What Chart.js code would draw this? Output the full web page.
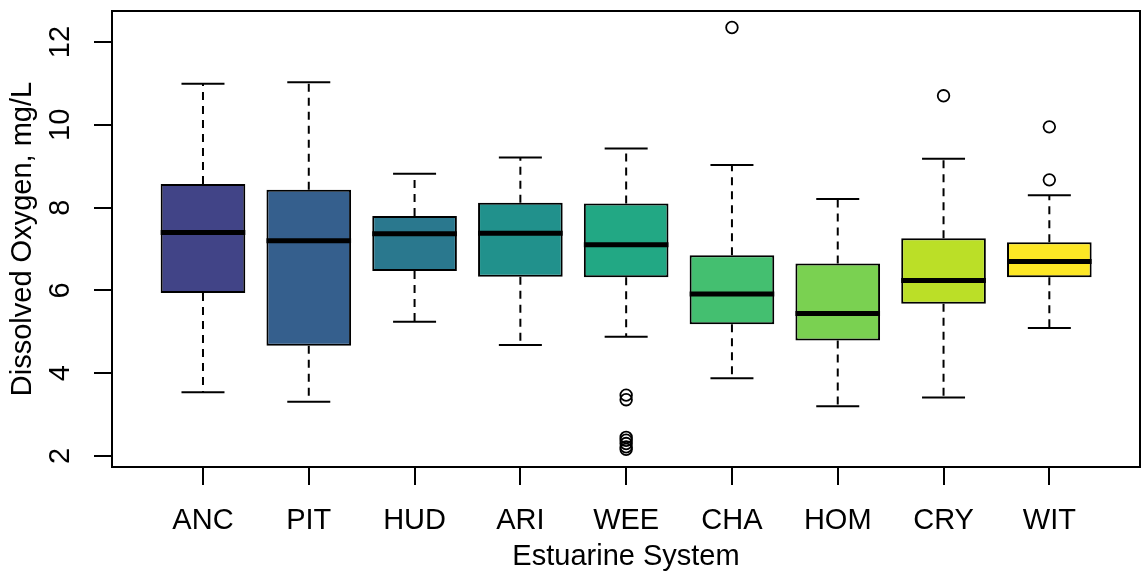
<!DOCTYPE html>
<html><head><meta charset="utf-8">
<script src="https://cdn.jsdelivr.net/npm/chart.js@4.4.1/dist/chart.umd.min.js"></script>
<style>html,body{margin:0;padding:0;background:#fff}canvas{display:block}</style>
</head><body>
<canvas id="c" width="1142" height="575"></canvas>
<script>
const categories = ['ANC','PIT','HUD','ARI','WEE','CHA','HOM','CRY','WIT'];
const whiskerLow  = [3.54, 3.31, 5.24, 4.68, 4.88, 3.88, 3.20, 3.41, 5.09];
const q1          = [5.94, 4.66, 6.47, 6.33, 6.32, 5.18, 4.79, 5.68, 6.32];
const median      = [7.40, 7.20, 7.37, 7.38, 7.10, 5.91, 5.44, 6.24, 6.70];
const q3          = [8.57, 8.43, 7.80, 8.12, 8.10, 6.85, 6.65, 7.26, 7.16];
const whiskerHigh = [10.99, 11.03, 8.82, 9.21, 9.43, 9.03, 8.21, 9.18, 8.30];
const outlierCategory = ['WEE','WEE','WEE','WEE','WEE','WEE','WEE','CHA','CRY','WIT','WIT'];
const outlierValues   = [3.47, 3.36, 2.45, 2.38, 2.30, 2.22, 2.16, 12.35, 10.70, 9.95, 8.67];
const yTicks = [2, 4, 6, 8, 10, 12];
const boxColors = ['#414487','#355F8D','#2A788E','#21918C','#22A884','#44BF70','#7AD151','#BBDF27','#FDE725'];

const FONT = {family: "'Liberation Sans', Arial, sans-serif", size: 29};
Chart.defaults.color = '#000';
Chart.defaults.font.family = FONT.family;

const pos = i => i + 1;
const boxData = categories.map((c, i) => ({x: pos(i), y: [q1[i], q3[i]]}));
const medianData = categories.map((c, i) => ({x: pos(i), y: median[i]}));
const whiskerData = [];
const capData = [];
categories.forEach((c, i) => {
  whiskerData.push({x: pos(i), y: q3[i]}, {x: pos(i), y: whiskerHigh[i]}, {x: pos(i), y: null},
                   {x: pos(i), y: q1[i]}, {x: pos(i), y: whiskerLow[i]}, {x: pos(i), y: null});
  capData.push({x: pos(i), y: whiskerHigh[i]}, {x: pos(i), y: whiskerLow[i]});
});
const outlierData = outlierValues.map((v, k) => ({x: pos(categories.indexOf(outlierCategory[k])), y: v}));

const framePlugin = {
  id: 'frame',
  afterDraw(chart) {
    const {ctx, chartArea: a} = chart;
    ctx.save();
    ctx.strokeStyle = '#000';
    ctx.lineWidth = 2;
    ctx.strokeRect(a.left, a.top, a.right - a.left, a.bottom - a.top);
    ctx.restore();
  }
};

const gridOpts = {drawOnChartArea: false, drawTicks: true, tickLength: 18, color: '#000',
                  tickColor: '#000', tickWidth: 2, lineWidth: 2, offset: false};

new Chart(document.getElementById('c'), {
  type: 'bar',
  data: {
    datasets: [
      {type: 'line', data: whiskerData, borderColor: '#000', borderWidth: 2, borderDash: [8, 6],
       pointRadius: 0, spanGaps: false, tension: 0, order: 5},
      {type: 'bar', data: boxData, backgroundColor: boxColors, borderColor: '#000', borderWidth: 2,
       borderSkipped: false, barPercentage: 0.8, categoryPercentage: 1, order: 4},
      {type: 'line', data: medianData, showLine: false, pointStyle: 'line', pointRadius: 42.3,
       pointBorderWidth: 5, pointBorderColor: '#000', order: 3},
      {type: 'line', data: capData, showLine: false, pointStyle: 'line', pointRadius: 21.5,
       pointBorderWidth: 2, pointBorderColor: '#000', order: 2},
      {type: 'line', data: outlierData, showLine: false, pointStyle: 'circle', pointRadius: 5.8,
       pointBackgroundColor: 'rgba(0,0,0,0)', pointBorderColor: '#000', pointBorderWidth: 1.8, order: 1}
    ]
  },
  options: {
    responsive: false,
    devicePixelRatio: 1,
    animation: false,
    events: [],
    layout: {autoPadding: false, padding: {top: 11, right: 2, left: 0, bottom: 0}},
    plugins: {legend: {display: false}, tooltip: {enabled: false}},
    scales: {
      x: {
        type: 'linear', min: 0.14, max: 9.857, offset: false,
        afterBuildTicks: s => { s.ticks = categories.map((c, i) => ({value: pos(i)})); },
        afterFit: s => { s.height = 108; s.paddingLeft = 0; s.paddingRight = 0; },
        ticks: {font: FONT, padding: 19, maxRotation: 0, autoSkip: false,
                callback: (v, i) => categories[i]},
        grid: gridOpts,
        border: {display: false},
        title: {display: true, text: 'Estuarine System', font: FONT, padding: {top: 0, bottom: 1}}
      },
      y: {
        type: 'linear', min: 1.734, max: 12.749,
        afterBuildTicks: s => { s.ticks = yTicks.map(v => ({value: v})); },
        afterFit: s => { s.width = 112; s.paddingTop = 0; s.paddingBottom = 0; },
        ticks: {font: FONT, padding: 17, minRotation: 90, maxRotation: 90, crossAlign: 'center'},
        grid: gridOpts,
        border: {display: false},
        title: {display: true, text: 'Dissolved Oxygen, mg/L', font: FONT, padding: {top: 6, bottom: 0}}
      }
    }
  },
  plugins: [framePlugin]
});
</script>
</body></html>
